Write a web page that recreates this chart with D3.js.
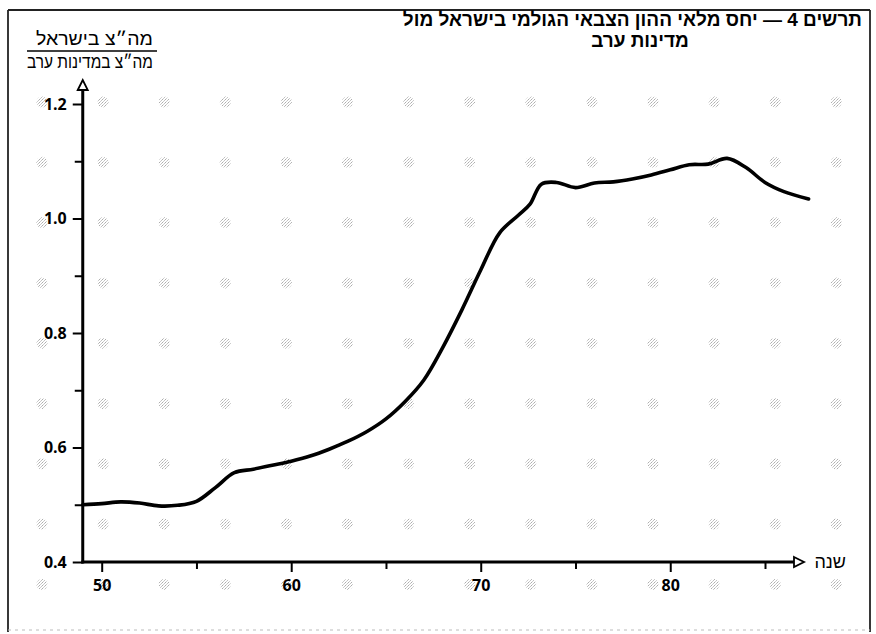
<!DOCTYPE html>
<html>
<head>
<meta charset="utf-8">
<script src="https://cdn.jsdelivr.net/npm/d3@7/dist/d3.min.js"></script>
<style>
  html, body { margin: 0; padding: 0; background: #fff; }
  svg { display: block; }
</style>
</head>
<body>
<svg id="chart" width="876" height="634"></svg>
<script>
// ---- data ----
const years = [49, 50, 51, 52, 53, 54, 55, 56, 57, 58, 59, 60, 61, 62, 63, 64, 65, 66, 67, 68, 69, 70, 71, 72, 72.6, 73.2, 74, 75, 76, 77, 78, 79, 80, 81, 82, 83, 84, 85, 86, 87.3];
const ratio = [0.500, 0.502, 0.505, 0.503, 0.498, 0.499, 0.506, 0.530, 0.556, 0.562, 0.569, 0.576, 0.585, 0.597, 0.611, 0.628, 0.650, 0.680, 0.718, 0.775, 0.840, 0.910, 0.975, 1.006, 1.025, 1.060, 1.063, 1.054, 1.062, 1.064, 1.069, 1.076, 1.085, 1.094, 1.095, 1.105, 1.089, 1.063, 1.047, 1.034];
const xMajorTicks = [50, 60, 70, 80];
const xMinorTicks = [55, 65, 75, 85];
const yMajorTicks = [0.4, 0.6, 0.8, 1.0, 1.2];
const yMinorTicks = [0.5, 0.7, 0.9, 1.1];
const yTickLabels = ["0.4", "0.6", "0.8", "1.0", "1.2"];
const xTickLabels = ["50", "60", "70", "80"];
const titleLines = ["תרשים 4 — יחס מלאי ההון הצבאי הגולמי בישראל מול", "מדינות ערב"];
const yLabelTop = "מה״צ בישראל";
const yLabelBottom = "מה״צ במדינות ערב";
const xLabel = "שנה";

const svg = d3.select("#chart");

// scales
const x = d3.scaleLinear().domain([50, 85]).range([101.7, 765]);
const y = d3.scaleLinear().domain([0.4, 1.2]).range([562, 104]);
const x0 = x(49), y0 = y(0.4);

// defs: speckle pattern
const defs = svg.append("defs");
const pat = defs.append("pattern").attr("id", "speck").attr("width", 3).attr("height", 3)
  .attr("patternUnits", "userSpaceOnUse");
pat.append("rect").attr("x", 0).attr("y", 0).attr("width", 1).attr("height", 1).attr("fill", "#777");
pat.append("rect").attr("x", 2).attr("y", 1).attr("width", 1).attr("height", 1).attr("fill", "#999");
pat.append("rect").attr("x", 1).attr("y", 2).attr("width", 1).attr("height", 1).attr("fill", "#aaa");

// frame
svg.append("line").attr("x1", 8).attr("x2", 870).attr("y1", 10).attr("y2", 10).attr("stroke", "#222").attr("stroke-width", 1.8);
svg.append("line").attr("x1", 8).attr("x2", 8).attr("y1", 10).attr("y2", 632).attr("stroke", "#222").attr("stroke-width", 1.8);
svg.append("line").attr("x1", 870).attr("x2", 870).attr("y1", 10).attr("y2", 632).attr("stroke", "#222").attr("stroke-width", 1.8);
svg.append("line").attr("x1", 8).attr("x2", 870).attr("y1", 630).attr("y2", 630).attr("stroke", "#bbb").attr("stroke-width", 1).attr("stroke-dasharray", "3,4");

// speckle grid
const gx = d3.range(42, 860, 61.1);
const gy = d3.range(102, 600, 60.3);
const gGrid = svg.append("g");
gy.forEach(cy => gx.forEach(cx => {
  gGrid.append("circle").attr("cx", cx).attr("cy", cy).attr("r", 5.5)
    .attr("fill", "url(#speck)").attr("opacity", 0.6);
}));

// axes ticks via d3 axes
const tickFont = "'Open Sans', 'DejaVu Sans', sans-serif";
const yAxisMajor = d3.axisLeft(y).tickValues(yMajorTicks).tickSize(10).tickPadding(6)
  .tickFormat((d, i) => yTickLabels[i]);
const yAxisMinor = d3.axisLeft(y).tickValues(yMinorTicks).tickSize(8).tickFormat("");
const xAxisMajor = d3.axisBottom(x).tickValues(xMajorTicks).tickSize(10).tickPadding(8)
  .tickFormat((d, i) => xTickLabels[i]);
const xAxisMinor = d3.axisBottom(x).tickValues(xMinorTicks).tickSize(7).tickFormat("");

function styleAxis(g) {
  g.select(".domain").remove();
  g.selectAll(".tick line").attr("stroke", "#000").attr("stroke-width", 2);
  g.selectAll(".tick text").attr("fill", "#000").attr("font-family", tickFont)
    .attr("font-size", 16).attr("font-weight", 700);
}
svg.append("g").attr("transform", `translate(${x0},0)`).call(yAxisMajor).call(styleAxis);
svg.append("g").attr("transform", `translate(${x0},0)`).call(yAxisMinor).call(styleAxis);
svg.append("g").attr("transform", `translate(0,${y0})`).call(xAxisMajor).call(styleAxis);
svg.append("g").attr("transform", `translate(0,${y0})`).call(xAxisMinor).call(styleAxis);

// axis lines with hollow arrowheads
const yTop = 90, xRight = 794;
svg.append("line").attr("x1", x0).attr("x2", x0).attr("y1", y0 + 1.5).attr("y2", yTop)
  .attr("stroke", "#000").attr("stroke-width", 3);
svg.append("line").attr("x1", x0 - 1.5).attr("x2", xRight).attr("y1", y0).attr("y2", y0)
  .attr("stroke", "#000").attr("stroke-width", 3);
svg.append("path").attr("d", `M${x0 - 5},${yTop} L${x0},${yTop - 10} L${x0 + 5},${yTop} Z`)
  .attr("fill", "#fff").attr("stroke", "#000").attr("stroke-width", 1.8);
svg.append("path").attr("d", `M${xRight},${y0 - 5} L${xRight + 10},${y0} L${xRight},${y0 + 5} Z`)
  .attr("fill", "#fff").attr("stroke", "#000").attr("stroke-width", 1.8);

// data line
const pts = years.map((yr, i) => [yr, ratio[i]]);
const line = d3.line().x(d => x(d[0])).y(d => y(d[1])).curve(d3.curveCatmullRom.alpha(0.5));
svg.append("path").datum(pts).attr("d", line).attr("fill", "none")
  .attr("stroke", "#000").attr("stroke-width", 3.6).attr("stroke-linejoin", "round").attr("stroke-linecap", "round");

// texts
const hebFont = "'Liberation Sans', 'DejaVu Sans', sans-serif";
svg.append("text").attr("x", 862).attr("y", 26).attr("text-anchor", "end")
  .attr("font-family", hebFont).attr("font-size", 19).attr("font-weight", "bold").text(titleLines[0]);
svg.append("text").attr("x", 640).attr("y", 47).attr("text-anchor", "middle")
  .attr("font-family", hebFont).attr("font-size", 19).attr("font-weight", "bold").text(titleLines[1]);

svg.append("text").attr("x", 36).attr("y", 45)
  .attr("textLength", 117).attr("lengthAdjust", "spacingAndGlyphs")
  .attr("font-family", hebFont).attr("font-size", 18).text(yLabelTop);
svg.append("line").attr("x1", 27).attr("x2", 157).attr("y1", 51).attr("y2", 51)
  .attr("stroke", "#000").attr("stroke-width", 1.3);
svg.append("text").attr("x", 27).attr("y", 68)
  .attr("textLength", 126).attr("lengthAdjust", "spacingAndGlyphs")
  .attr("font-family", hebFont).attr("font-size", 18).text(yLabelBottom);

svg.append("text").attr("x", 846).attr("y", y0 + 6).attr("text-anchor", "end")
  .attr("font-family", hebFont).attr("font-size", 18).text(xLabel);
</script>
</body>
</html>
